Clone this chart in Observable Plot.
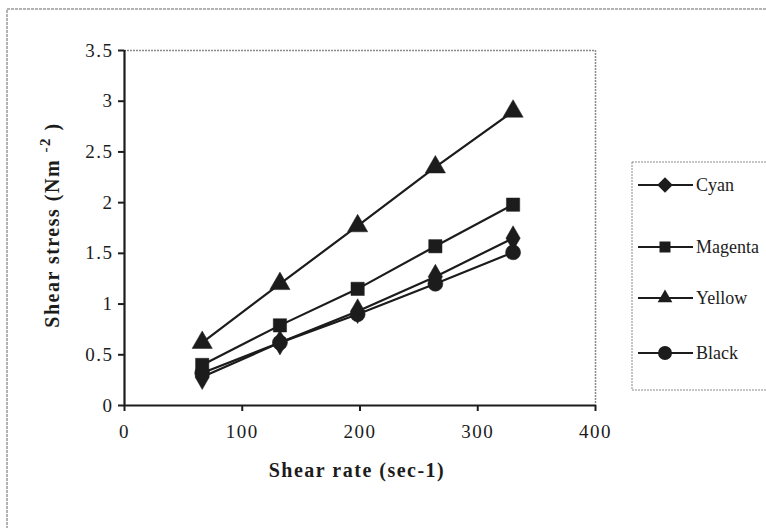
<!DOCTYPE html>
<html>
<head>
<meta charset="utf-8">
<script src="https://cdn.jsdelivr.net/npm/d3@7"></script>
<script src="https://cdn.jsdelivr.net/npm/@observablehq/plot@0.6"></script>
<style>
  html, body { margin: 0; padding: 0; background: #fff; }
  #chart { position: relative; width: 766px; height: 528px; overflow: hidden; }
</style>
</head>
<body>
<div id="chart"></div>
<script>
// ---- data ----
const shearRate = [66, 132, 198, 264, 330];
const cyan    = [0.28, 0.62, 0.93, 1.27, 1.65];
const magenta = [0.40, 0.79, 1.15, 1.57, 1.98];
const yellow  = [0.62, 1.20, 1.77, 2.35, 2.90];
const black   = [0.32, 0.62, 0.90, 1.20, 1.51];
const seriesNames = ["Cyan", "Magenta", "Yellow", "Black"];
const seriesSymbols = ["diamond", "square", "triangle", "circle"];
const xTicks = [0, 100, 200, 300, 400];
const yTicks = [0, 0.5, 1, 1.5, 2, 2.5, 3, 3.5];
const xTitle = "Shear rate (sec-1)";
const yTitleMain = "Shear stress (Nm ";
const yTitleSup = "-2";
const yTitleEnd = ")";

const seriesValues = [cyan, magenta, yellow, black];
const rows = [];
seriesNames.forEach((name, i) => {
  shearRate.forEach((x, j) => rows.push({series: name, symbol: seriesSymbols[i], x, y: seriesValues[i][j]}));
});

const font = "'Liberation Serif', 'Times New Roman', serif";
const ink = "#1c1c1c";

const plot = Plot.plot({
  width: 766,
  height: 528,
  marginLeft: 124,
  marginRight: 171,
  marginTop: 50,
  marginBottom: 123,
  style: {fontFamily: font, fontSize: "19px", color: ink, background: "transparent"},
  x: {domain: [0, 400], ticks: xTicks, tickFormat: d => String(d), label: null},
  y: {domain: [0, 3.5], ticks: yTicks, tickFormat: d => String(d), label: null},
  symbol: {domain: seriesSymbols, range: seriesSymbols},
  marks: [
    Plot.ruleY([3.5], {stroke: "#8a8a8a", strokeWidth: 1.5, strokeDasharray: "2,1"}),
    Plot.ruleX([400], {stroke: "#8a8a8a", strokeWidth: 1.5, strokeDasharray: "2,1"}),
    Plot.axisX({ticks: xTicks, tickFormat: d => String(d), tickSize: 6, tickPadding: 13, stroke: ink, strokeWidth: 2, fill: ink, label: null, fontFamily: font, fontSize: 19}),
    Plot.axisY({ticks: yTicks, tickFormat: d => String(d), tickSize: 6, tickPadding: 5, stroke: ink, strokeWidth: 2, fill: ink, label: null, fontFamily: font, fontSize: 19}),
    Plot.ruleX([0], {stroke: ink, strokeWidth: 2.2}),
    Plot.ruleY([0], {stroke: ink, strokeWidth: 2.2}),
    Plot.line(rows, {x: "x", y: "y", z: "series", stroke: ink, strokeWidth: 2.2}),
    Plot.dot(rows, {x: "x", y: "y", symbol: "symbol", fill: ink, stroke: ink, strokeWidth: 0.5, r: 7.5})
  ]
});

const svg = d3.select(plot);
svg.selectAll("g[aria-label='x-axis tick label'] text, g[aria-label='y-axis tick label'] text")
  .attr("letter-spacing", "1.5px");

// outer border of the figure
svg.insert("rect", ":first-child")
  .attr("x", 7).attr("y", 9).attr("width", 800).attr("height", 540)
  .attr("fill", "none").attr("stroke", "#9a9a9a").attr("stroke-width", 1.5).attr("stroke-dasharray", "3,1");

// axis titles
svg.append("text")
  .attr("x", 357).attr("y", 477)
  .attr("text-anchor", "middle")
  .attr("font-family", font).attr("font-weight", "bold").attr("font-size", 20)
  .attr("letter-spacing", "1.5px")
  .attr("fill", ink)
  .text(xTitle);

const yt = svg.append("text")
  .attr("transform", "translate(59,225) rotate(-90)")
  .attr("text-anchor", "middle")
  .attr("font-family", font).attr("font-weight", "bold").attr("font-size", 20)
  .attr("letter-spacing", "1.5px")
  .attr("fill", ink);
yt.append("tspan").text(yTitleMain);
yt.append("tspan").attr("dy", -9).attr("font-size", 15).text(yTitleSup);
yt.append("tspan").attr("dy", 9).text(" " + yTitleEnd);

// legend
const lg = svg.append("g");
lg.append("rect")
  .attr("x", 632).attr("y", 162).attr("width", 160).attr("height", 228)
  .attr("fill", "#fff").attr("stroke", "#8a8a8a").attr("stroke-width", 1).attr("stroke-dasharray", "2,1");
const legendY = [185, 247, 298, 353];
seriesNames.forEach((name, i) => {
  const g = lg.append("g").attr("transform", `translate(0,${legendY[i]})`);
  g.append("line").attr("x1", 638).attr("x2", 693).attr("y1", 0).attr("y2", 0)
    .attr("stroke", ink).attr("stroke-width", 2.2);
  const sym = {diamond: d3.symbolDiamond2, square: d3.symbolSquare2, triangle: d3.symbolTriangle2, circle: d3.symbolCircle}[seriesSymbols[i]];
  g.append("path").attr("transform", "translate(665,0)")
    .attr("d", d3.symbol(sym, 7 * 7 * Math.PI)())
    .attr("fill", ink);
  g.append("text").attr("x", 696).attr("y", 0).attr("dy", "0.32em")
    .attr("text-anchor", "start")
    .attr("font-family", font).attr("font-size", 18).attr("fill", ink)
    .text(name);
});

document.getElementById("chart").appendChild(plot);
</script>
</body>
</html>
